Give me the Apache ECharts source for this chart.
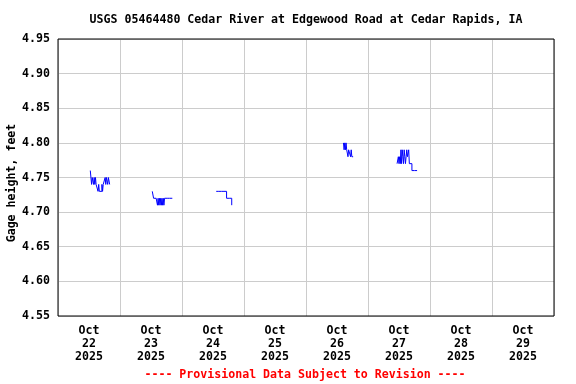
<!DOCTYPE html>
<html><head><meta charset="utf-8">
<script src="https://cdn.jsdelivr.net/npm/echarts@6/dist/echarts.min.js"></script>
<style>html,body{margin:0;padding:0;background:#fff}#c{width:576px;height:384px}</style>
</head><body><div id="c"></div>
<script>
// Hours since Oct 22 2025 00:00 at which each segment starts (15-minute readings)
const segStarts = [12.5, 36.5, 61.25, 110.5, 131.25];
const seg1 = [4.76,4.76,4.74,4.75,4.75,4.74,4.75,4.74,4.75,4.74,4.74,4.74,4.73,4.74,4.73,4.73,4.73,4.73,4.74,4.73,4.74,4.74,4.74,4.75,4.74,4.75,4.75,4.74,4.75,4.75,4.74,4.74];
const seg2 = [4.73,4.73,4.72,4.72,4.72,4.72,4.72,4.72,4.71,4.72,4.71,4.72,4.71,4.72,4.71,4.72,4.71,4.72,4.71,4.72,4.72,4.72,4.72,4.72,4.72,4.72,4.72,4.72,4.72,4.72,4.72,4.72];
const seg3 = [4.73,4.73,4.73,4.73,4.73,4.73,4.73,4.73,4.73,4.73,4.73,4.73,4.73,4.73,4.73,4.73,4.72,4.72,4.72,4.72,4.72,4.72,4.72,4.72,4.71,4.71];
const seg4 = [4.80,4.79,4.80,4.79,4.80,4.79,4.79,4.78,4.79,4.79,4.79,4.78,4.79,4.78,4.78,4.78,4.78];
const seg5 = [4.77,4.77,4.78,4.77,4.78,4.77,4.79,4.77,4.79,4.78,4.77,4.79,4.78,4.77,4.78,4.79,4.78,4.78,4.79,4.77,4.77,4.77,4.77,4.76,4.76,4.76,4.76,4.76,4.76,4.76,4.76,4.76];
const segments = [seg1, seg2, seg3, seg4, seg5];
const dayLabels = ['Oct\n22\n2025','Oct\n23\n2025','Oct\n24\n2025','Oct\n25\n2025','Oct\n26\n2025','Oct\n27\n2025','Oct\n28\n2025','Oct\n29\n2025'];
const yTicks = [4.55,4.60,4.65,4.70,4.75,4.80,4.85,4.90,4.95];

const FONT = 'DejaVu Sans Mono';
const FS = 11.6;
const series = segments.map((vals, i) => ({
  type: 'line', xAxisIndex: 0, showSymbol: false, symbol: 'none', animation: false, step: 'end',
  lineStyle: {color: '#0000ff', width: 1},
  data: vals.map((v, k) => [segStarts[i] + k * 0.25, v])
}));

const chart = echarts.init(document.getElementById('c'), null, {renderer: 'canvas'});
chart.setOption({
  animation: false,
  grid: {left: 58, top: 39, width: 496, height: 277, show: false, containLabel: false},
  xAxis: [
    {type: 'value', min: 0, max: 192, interval: 24, position: 'bottom',
     axisLine: {show: false}, axisTick: {show: false}, axisLabel: {show: false},
     splitLine: {show: true, lineStyle: {color: '#cccccc', width: 1}}},
    {type: 'value', min: 0, max: 192, interval: 12, position: 'bottom',
     axisLine: {show: false}, axisTick: {show: false}, splitLine: {show: false},
     axisLabel: {show: true, margin: 8, lineHeight: 13, color: '#000', fontFamily: FONT, fontWeight: 'bold', fontSize: FS,
       formatter: v => (v % 24 === 12) ? dayLabels[(v - 12) / 24] : ''}}
  ],
  yAxis: {type: 'value', min: 4.55, max: 4.95, interval: 0.05,
    axisLine: {show: false}, axisTick: {show: false},
    splitLine: {show: true, lineStyle: {color: '#cccccc', width: 1}},
    axisLabel: {margin: 8, color: '#000', fontFamily: FONT, fontWeight: 'bold', fontSize: FS,
      formatter: v => v.toFixed(2)}},
  graphic: [
    {type: 'rect', z: 100, silent: true, shape: {x: 58, y: 39, width: 496, height: 277},
     style: {fill: 'none', stroke: '#000', lineWidth: 1}},
    {type: 'text', x: 306, y: 20, style: {text: 'USGS 05464480 Cedar River at Edgewood Road at Cedar Rapids, IA',
      align: 'center', verticalAlign: 'middle', fill: '#000', font: 'bold ' + FS + 'px "' + FONT + '"'}},
    {type: 'text', x: 12, y: 183, rotation: Math.PI / 2, style: {text: 'Gage height, feet',
      align: 'center', verticalAlign: 'middle', fill: '#000', font: 'bold ' + FS + 'px "' + FONT + '"'}},
    {type: 'text', x: 305, y: 375, style: {text: '---- Provisional Data Subject to Revision ----',
      align: 'center', verticalAlign: 'middle', fill: '#ff0000', font: 'bold ' + FS + 'px "' + FONT + '"'}}
  ],
  series: series
});
</script></body></html>
